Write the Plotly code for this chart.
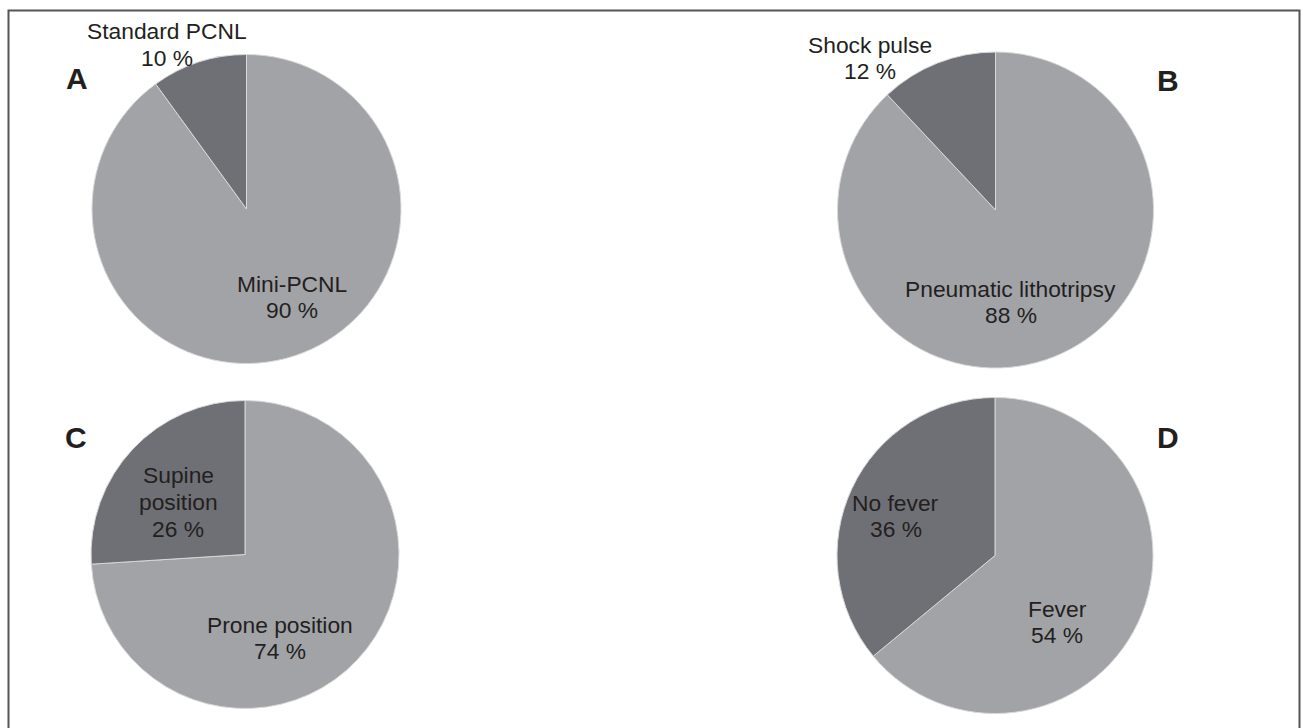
import plotly.graph_objects as go

W, H = 1303, 728

# ---- data ----
panel_letters = ["A", "B", "C", "D"]
labels_A = ["Standard PCNL", "Mini-PCNL"]
values_A = [10, 90]
labels_B = ["Shock pulse", "Pneumatic lithotripsy"]
values_B = [12, 88]
labels_C = ["Supine position", "Prone position"]
values_C = [26, 74]
labels_D = ["No fever", "Fever"]
values_D = [36, 64]          # slice sizes as drawn
pct_text_D = ["36 %", "54 %"]  # percentages as printed

slice_colors = ["#6f7075", "#a2a3a7"]
text_color = "#231f20"

# ---- layout helpers (pixel geometry) ----
def px_domain(cx, cy, r):
    return dict(x=[(cx - r) / W, (cx + r) / W],
                y=[1 - (cy + r) / H, 1 - (cy - r) / H])

pies = [
    (labels_A, values_A, (246.5, 209, 154.5)),
    (labels_B, values_B, (995.5, 210, 158)),
    (labels_C, values_C, (245, 554.5, 154)),
    (labels_D, values_D, (995, 555.5, 158)),
]

fig = go.Figure()
for labels, values, (cx, cy, r) in pies:
    # drawn clockwise from 12 o'clock: large slice first, small slice ends at top
    fig.add_trace(go.Pie(
        labels=labels[::-1], values=values[::-1], sort=False,
        direction="clockwise", rotation=0,
        textinfo="none", hoverinfo="label+percent",
        marker=dict(colors=slice_colors[::-1],
                    line=dict(color="#d8d8d8", width=1)),
        domain=px_domain(cx, cy, r), showlegend=False,
    ))

FS = 22.8
annotations = []

def line(text, x, baseline, size=FS, bold=False):
    yc = baseline - 0.33 * size
    t = f"<b>{text}</b>" if bold else text
    annotations.append(dict(
        text=t, x=x / W, y=1 - yc / H, xref="paper", yref="paper",
        xanchor="center", yanchor="middle", showarrow=False,
        font=dict(size=size, color=text_color,
                  family="Liberation Sans, Arial, sans-serif")))

# panel A
line(labels_A[0], 167, 39)
line(f"{values_A[0]} %", 167, 66)
line(labels_A[1], 291.5, 292)
line(f"{values_A[1]} %", 291.5, 318)
# panel B
line(labels_B[0], 869.5, 53)
line(f"{values_B[0]} %", 869.5, 79)
line(labels_B[1], 1010.5, 297)
line(f"{values_B[1]} %", 1010.5, 323)
# panel C
sup = labels_C[0].split(" ")
line(sup[0], 178, 483)
line(sup[1], 178, 510)
line(f"{values_C[0]} %", 178, 537)
line(labels_C[1], 279.5, 633)
line(f"{values_C[1]} %", 279.5, 659)
# panel D
line(labels_D[0], 895.5, 511)
line(pct_text_D[0], 895.5, 537)
line(labels_D[1], 1057, 617)
line(pct_text_D[1], 1057, 643)

# panel letters
letter_pos = [(76.5, 88), (1167.5, 90), (76, 447), (1167.5, 447)]
for letter, (x, b) in zip(panel_letters, letter_pos):
    line(letter, x, b, size=30, bold=True)

fig.update_layout(
    width=W, height=H,
    margin=dict(l=0, r=0, t=0, b=0),
    paper_bgcolor="white", plot_bgcolor="white",
    annotations=annotations,
    shapes=[dict(type="rect", xref="paper", yref="paper",
                 x0=8.5 / W, x1=1299.5 / W, y0=-0.05, y1=1 - 10.5 / H,
                 line=dict(color="#555555", width=2))],
)

fig.write_html("out.html")
